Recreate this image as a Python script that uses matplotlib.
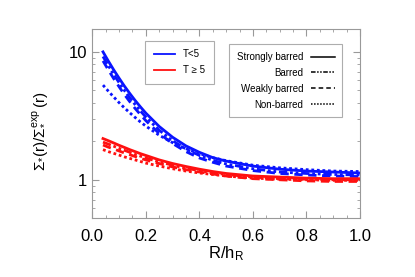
import matplotlib
matplotlib.use('Agg')
import matplotlib.pyplot as plt
from matplotlib.lines import Line2D
from matplotlib.ticker import MultipleLocator, FixedLocator, NullFormatter

plt.rcParams['font.family'] = ['Liberation Sans', 'DejaVu Sans']
plt.rcParams['mathtext.default'] = 'regular'

# radius in units of disc scale length
r = [0.04, 0.06, 0.08, 0.10, 0.12, 0.14, 0.16, 0.18, 0.20, 0.25,
     0.30, 0.35, 0.40, 0.45, 0.50, 0.60, 0.70, 0.80, 0.90, 1.00]

# T<5 (blue)
early_strong = [10.0, 8.47, 7.23, 6.23, 5.40, 4.73, 4.17, 3.71, 3.32, 2.61,
                2.15, 1.84, 1.64, 1.49, 1.40, 1.28, 1.21, 1.17, 1.15, 1.13]
early_barred = [9.2, 7.80, 6.67, 5.75, 4.99, 4.38, 3.87, 3.45, 3.09, 2.44,
                2.02, 1.74, 1.55, 1.42, 1.33, 1.22, 1.15, 1.12, 1.10, 1.09]
early_weak = [8.5, 7.22, 6.18, 5.34, 4.64, 4.08, 3.61, 3.23, 2.90, 2.30,
              1.92, 1.66, 1.48, 1.37, 1.28, 1.18, 1.12, 1.09, 1.07, 1.06]
early_non = [5.5, 4.93, 4.44, 4.01, 3.65, 3.34, 3.07, 2.83, 2.63, 2.23,
             1.95, 1.75, 1.60, 1.49, 1.41, 1.30, 1.24, 1.20, 1.17, 1.16]

# T>=5 (red)
late_strong = [2.1, 2.02, 1.94, 1.86, 1.79, 1.72, 1.66, 1.6, 1.55, 1.43,
               1.34, 1.27, 1.21, 1.16, 1.12, 1.07, 1.05, 1.03, 1.02, 1.02]
late_barred = [1.97, 1.9, 1.83, 1.76, 1.7, 1.64, 1.58, 1.53, 1.48, 1.38,
               1.3, 1.23, 1.18, 1.13, 1.1, 1.05, 1.02, 1.01, 1.0, 1.0]
late_weak = [1.87, 1.8, 1.74, 1.68, 1.62, 1.57, 1.52, 1.47, 1.43, 1.34,
             1.26, 1.2, 1.15, 1.11, 1.07, 1.02, 1.0, 0.98, 0.97, 0.97]
late_non = [1.72, 1.66, 1.61, 1.56, 1.51, 1.47, 1.43, 1.39, 1.35, 1.28,
            1.22, 1.17, 1.13, 1.1, 1.07, 1.03, 1.01, 1.0, 0.99, 0.99]

bar_labels = ['Strongly barred', 'Barred', 'Weakly barred', 'Non-barred']
styles = ['-', (0, (3, 1, 1, 1, 1, 1)), (0, (3, 2)), (0, (1, 1))]

fig = plt.figure(figsize=(4.15, 2.77), dpi=100)
ax = fig.add_axes([0.2224, 0.212, 0.6451, 0.682])

for ys, ls in zip([early_strong, early_barred, early_weak, early_non], styles):
    ax.plot(r, ys, color='#0a14ff', linestyle=ls, linewidth=2.0)
for ys, ls in zip([late_strong, late_barred, late_weak, late_non], styles):
    ax.plot(r, ys, color='#ff1010', linestyle=ls, linewidth=2.0)

ax.set_yscale('log')
ax.set_xlim(0, 1)
ax.set_ylim(0.5, 15)
ax.xaxis.set_major_locator(MultipleLocator(0.2))
ax.xaxis.set_minor_locator(MultipleLocator(0.05))
ax.xaxis.set_major_formatter(plt.FuncFormatter(lambda v, p: '%.1f' % v))
ax.yaxis.set_major_locator(FixedLocator([1, 10]))
ax.yaxis.set_major_formatter(plt.FuncFormatter(lambda v, p: '%d' % v))
ax.yaxis.set_minor_locator(FixedLocator([0.5, 0.6, 0.7, 0.8, 0.9, 2, 3, 4, 5, 6, 7, 8, 9]))
ax.yaxis.set_minor_formatter(NullFormatter())

for s in ax.spines.values():
    s.set_color('#999999')
ax.tick_params(which='both', direction='in', top=True, right=True, color='#999999',
               labelsize=12, labelcolor='black')
ax.tick_params(which='major', length=5)
ax.tick_params(which='minor', length=2.5)
ax.tick_params(axis='x', which='major', pad=8)

ax.set_xlabel('R/h$_R$', fontsize=12, labelpad=0)
ax.set_ylabel(r'$\Sigma_{*}(r)/\Sigma_{*}^{exp}\,(r)$', fontsize=11)
ax.yaxis.set_label_coords(-0.158, 0.462)

h1 = [Line2D([], [], color='#0a14ff', lw=1.3), Line2D([], [], color='#ff1010', lw=1.3)]
leg1 = ax.legend(h1, ['T<5', 'T \u2265 5'], loc='upper left', bbox_to_anchor=(0.197, 0.94),
                 borderaxespad=0, fontsize=7, frameon=True, fancybox=False,
                 handlelength=2.2, handletextpad=0.8, borderpad=0.9, labelspacing=0.6)
leg1.get_frame().set_edgecolor('#999999')
leg1.get_frame().set_linewidth(0.8)
ax.add_artist(leg1)

h2 = [Line2D([], [], color='black', lw=1.1, linestyle=ls) for ls in styles]
leg2 = ax.legend(h2, bar_labels, loc='upper left', bbox_to_anchor=(0.512, 0.921),
                 borderaxespad=0, fontsize=7, frameon=True, fancybox=False, markerfirst=False,
                 handlelength=2.4, handletextpad=0.8, borderpad=0.8, labelspacing=0.6)
for t in leg2.get_texts():
    t.set_ha('right')
leg2._legend_box.align = 'right'
leg2.get_frame().set_edgecolor('#999999')
leg2.get_frame().set_linewidth(0.8)

fig.savefig('out.png', dpi=100)
